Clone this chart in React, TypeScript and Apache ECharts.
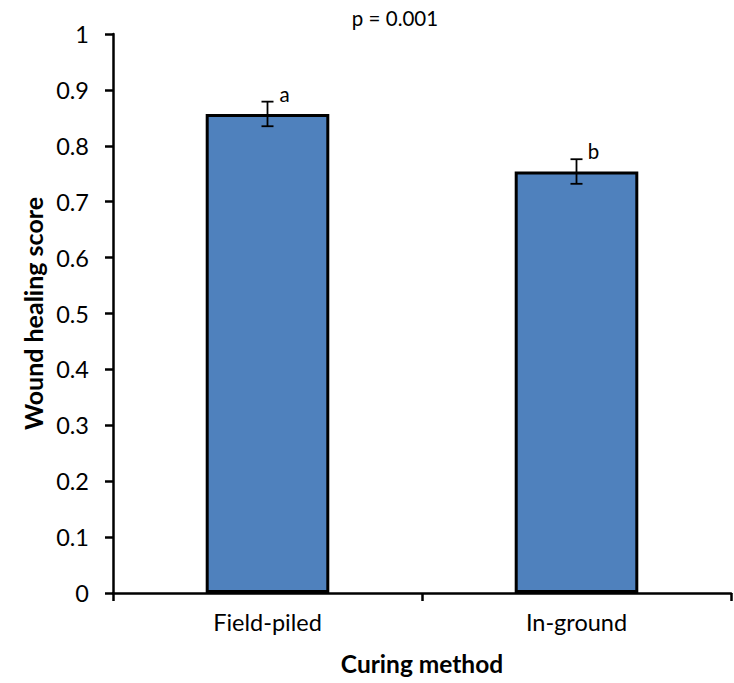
import React, { useEffect, useRef } from "react";
import * as echarts from "echarts";

const categories = ["Field-piled", "In-ground"];
const means = [0.857, 0.754];
const errors = [0.022, 0.022];
const letters = ["a", "b"];
const yTicks = { min: 0, max: 1, interval: 0.1 };
const titleText = "p = 0.001";
const yName = "Wound healing score";
const xName = "Curing method";

const FONT = "Lato, 'Open Sans', sans-serif";

export default function App() {
  const ref = useRef<HTMLDivElement>(null);
  useEffect(() => {
    if (!ref.current) return;
    const chart = echarts.init(ref.current, null, { renderer: "svg" });
    const errData = means.map((m, i) => [i, m - errors[i], m + errors[i]]);
    chart.setOption({
      animation: false,
      textStyle: { fontFamily: FONT },
      grid: { left: 113, right: 3, top: 34, bottom: 90, containLabel: false },
      graphic: [
        {
          type: "text",
          x: 395,
          y: 18,
          style: {
            text: titleText,
            fontFamily: FONT,
            fontSize: 20.5,
            fill: "#000",
            textAlign: "center",
            textVerticalAlign: "middle",
          },
        },
      ],
      xAxis: {
        type: "category",
        data: categories,
        name: xName,
        nameLocation: "middle",
        nameGap: 58,
        nameTextStyle: { fontFamily: FONT, fontSize: 24.5, fontWeight: "bold", color: "#000" },
        axisLine: { lineStyle: { color: "#000", width: 2.5 } },
        axisTick: { show: true, length: 8, lineStyle: { color: "#000", width: 2.5 } },
        axisLabel: { margin: 17, fontFamily: FONT, fontSize: 23.5, color: "#000" },
        splitLine: { show: false },
      },
      yAxis: {
        type: "value",
        min: yTicks.min,
        max: yTicks.max,
        interval: yTicks.interval,
        name: yName,
        nameLocation: "middle",
        nameGap: 64,
        nameTextStyle: { fontFamily: FONT, fontSize: 25, fontWeight: "bold", color: "#000" },
        axisLine: { show: true, lineStyle: { color: "#000", width: 2.5 } },
        axisTick: { show: true, length: 8, lineStyle: { color: "#000", width: 2.5 } },
        axisLabel: { margin: 24, fontFamily: FONT, fontSize: 23.5, color: "#000" },
        splitLine: { show: false },
      },
      series: [
        {
          type: "bar",
          data: means,
          barWidth: "40%",
          itemStyle: { color: "#4F81BD", borderColor: "#000", borderWidth: 3 },
        },
        {
          type: "custom",
          data: errData,
          z: 10,
          renderItem: (params: any, api: any) => {
            const i = api.value(0);
            const lo = api.coord([i, api.value(1)]);
            const hi = api.coord([i, api.value(2)]);
            const w = 6;
            const style = { stroke: "#000", lineWidth: 1.8 };
            return {
              type: "group",
              children: [
                { type: "line", shape: { x1: lo[0], y1: lo[1], x2: hi[0], y2: hi[1] }, style },
                { type: "line", shape: { x1: lo[0] - w, y1: lo[1], x2: lo[0] + w, y2: lo[1] }, style },
                { type: "line", shape: { x1: hi[0] - w, y1: hi[1], x2: hi[0] + w, y2: hi[1] }, style },
                {
                  type: "text",
                  x: hi[0] + 17,
                  y: hi[1] - 8,
                  style: {
                    text: letters[params.dataIndex],
                    fontFamily: FONT,
                    fontSize: 20.5,
                    fill: "#000",
                    textAlign: "center",
                    textVerticalAlign: "middle",
                  },
                },
              ],
            };
          },
        },
      ],
    });
    return () => chart.dispose();
  }, []);
  return (
    <div
      ref={ref}
      style={{ position: "absolute", left: 0, top: 0, width: 734, height: 683 }}
    />
  );
}
